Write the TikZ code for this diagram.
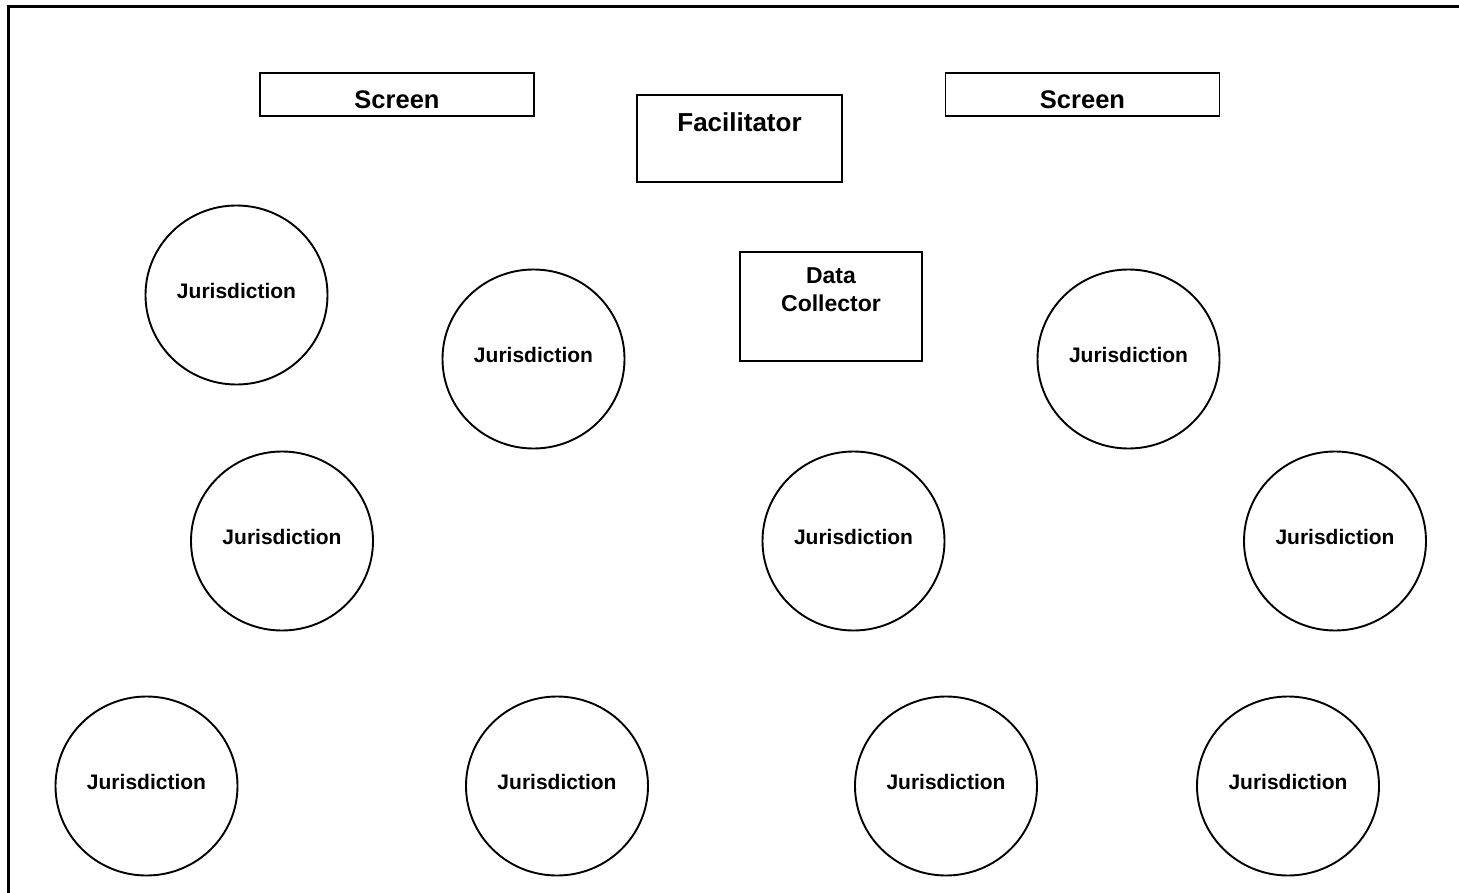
\documentclass[tikz,border=0pt]{standalone}
\usepackage{fontspec}
\setmainfont{Liberation Sans}
\usetikzlibrary{shapes.geometric}
\begin{document}
\begin{tikzpicture}[x=1pt,y=-1pt,
  jur/.style={ellipse,draw,line width=1.9pt,inner sep=0pt,minimum width=182pt,minimum height=179pt,
    font=\fontsize{21}{25}\selectfont\bfseries,text depth=9pt},
  screenbox/.style={rectangle,draw,line width=1.9pt,inner sep=0pt,minimum width=274pt,minimum height=43pt,
    font=\fontsize{25.5}{30}\selectfont\bfseries,text height=28pt,text depth=0pt},
  facbox/.style={rectangle,draw,line width=1.9pt,inner sep=0pt,minimum width=205pt,minimum height=87pt,
    font=\fontsize{26}{31}\selectfont\bfseries,text height=19pt,text depth=33pt},
  dcbox/.style={rectangle,draw,line width=1.9pt,inner sep=0pt,minimum width=182pt,minimum height=109pt},
  dctext/.style={align=center,inner sep=0pt,font=\fontsize{23}{28}\selectfont\bfseries}
]
\useasboundingbox (0,0) rectangle (1459,893);
% outer frame (right and bottom edges lie outside the picture)
\draw[line width=2.6pt] (8.5,900) -- (8.5,6.3) -- (1470,6.3);

\node[screenbox] (scrL) at (397,94.5) {Screen};
\node[screenbox] (scrR) at (1082.5,94.5) {Screen};
\node[facbox] (fac) at (739.5,138.5) {Facilitator};
\node[dcbox] (dc) at (831,306.5) {};
\node[dctext] (dct) at (831,290) {Data\\Collector};

\node[jur] (j1) at (236.5,295) {Jurisdiction};
\node[jur] (j2) at (533.5,359) {Jurisdiction};
\node[jur] (j3) at (1128.5,359) {Jurisdiction};
\node[jur] (j4) at (282,541) {Jurisdiction};
\node[jur] (j5) at (853.5,541) {Jurisdiction};
\node[jur] (j6) at (1335,541) {Jurisdiction};
\node[jur] (j7) at (146.5,786) {Jurisdiction};
\node[jur] (j8) at (557,786) {Jurisdiction};
\node[jur] (j9) at (946,786) {Jurisdiction};
\node[jur] (j10) at (1288,786) {Jurisdiction};
\end{tikzpicture}
\end{document}
